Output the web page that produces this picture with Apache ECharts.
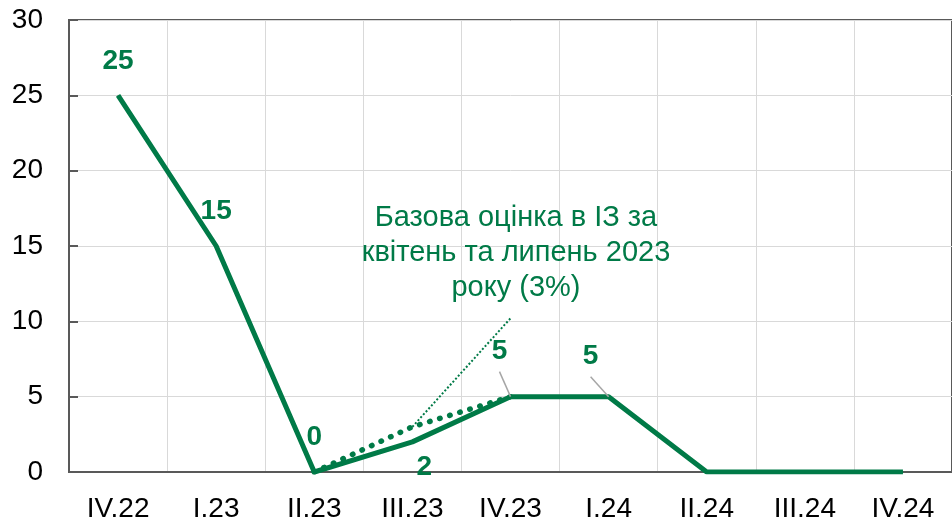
<!DOCTYPE html>
<html><head><meta charset="utf-8">
<script src="https://cdn.jsdelivr.net/npm/echarts@6/dist/echarts.min.js"></script>
<style>html,body{margin:0;padding:0;background:#fff}#c{width:952px;height:523px}</style>
</head><body><div id="c"></div>
<script>
var categories = ['IV.22','I.23','II.23','III.23','IV.23','I.24','II.24','III.24','IV.24'];
var mainValues = [25, 15, 0, 2, 5, 5, 0, 0, 0];
var baselineValues = [null, null, 0, 3, 5, null, null, null, null];
var leaderValues = [null, null, null, 3, 10.2, null, null, null, null];
var yTicks = {min: 0, max: 30, interval: 5};
var annotation = 'Базова оцінка в ІЗ за\nквітень та липень 2023\nроку (3%)';

var GREEN = '#007A47';
var FONT = '"Liberation Sans", Arial, sans-serif';

var labelOffsets = [[0, -15], [0, -15], [0, -15], [12, 6], [-11, -26], [-18, -21]];
var labelPos = ['top', 'top', 'top', 'bottom', 'top', 'top'];
var leaderIdx = [4, 5];

var mainData = mainValues.map(function (v, i) {
  if (i < labelOffsets.length) {
    return {value: v, label: {position: labelPos[i], offset: labelOffsets[i]}};
  }
  return {value: v, label: {show: false}};
});

var chart = echarts.init(document.getElementById('c'), null, {renderer: 'canvas'});
chart.setOption({
  animation: false,
  backgroundColor: '#fff',
  grid: {left: 69, top: 20, width: 887, bottom: 51, show: true, borderColor: '#595959', borderWidth: 2, backgroundColor: 'transparent'},
  xAxis: {
    type: 'category', data: categories, boundaryGap: true,
    axisLine: {lineStyle: {color: '#595959', width: 2}},
    axisTick: {inside: true, length: 7, lineStyle: {color: '#595959', width: 2}},
    axisLabel: {color: '#000', fontSize: 28, fontFamily: FONT, margin: 23},
    splitLine: {show: true, lineStyle: {color: '#d9d9d9', width: 1}}
  },
  yAxis: {
    type: 'value', min: yTicks.min, max: yTicks.max, interval: yTicks.interval,
    axisLine: {show: true, lineStyle: {color: '#595959', width: 2}},
    axisTick: {show: true, inside: true, length: 9, lineStyle: {color: '#595959', width: 2}},
    axisLabel: {color: '#000', fontSize: 28, fontFamily: FONT, margin: 26},
    splitLine: {show: true, lineStyle: {color: '#d9d9d9', width: 1}}
  },
  series: [
    {
      type: 'line', data: leaderValues, symbol: 'none', silent: true, z: 2,
      lineStyle: {color: GREEN, width: 2, type: [2, 2]}
    },
    {
      type: 'line', data: baselineValues, symbol: 'none', silent: true, z: 3,
      lineStyle: {color: GREEN, width: 5.5, type: [0.5, 10], cap: 'round'}
    },
    {
      type: 'line', data: mainData, symbol: 'circle', symbolSize: 1, showSymbol: true, showAllSymbol: true, z: 4,
      itemStyle: {color: GREEN},
      lineStyle: {color: GREEN, width: 5},
      label: {show: true, color: GREEN, fontSize: 28, fontWeight: 'bold', fontFamily: FONT, distance: 5}
    }
  ]
});

var graphics = [{
  type: 'text', x: 516, y: 200, z: 10,
  style: {text: annotation, fill: GREEN, font: '29px ' + FONT, textAlign: 'center', textVerticalAlign: 'top', lineHeight: 35}
}];
leaderIdx.forEach(function (i) {
  var p = chart.convertToPixel({seriesIndex: 2}, [i, mainValues[i]]);
  var o = labelOffsets[i];
  graphics.push({
    type: 'line', z: 5,
    shape: {x1: p[0] + o[0], y1: p[1] + o[1] + 1, x2: p[0], y2: p[1]},
    style: {stroke: '#a6a6a6', lineWidth: 1.5}
  });
});
chart.setOption({graphic: graphics});
</script></body></html>
